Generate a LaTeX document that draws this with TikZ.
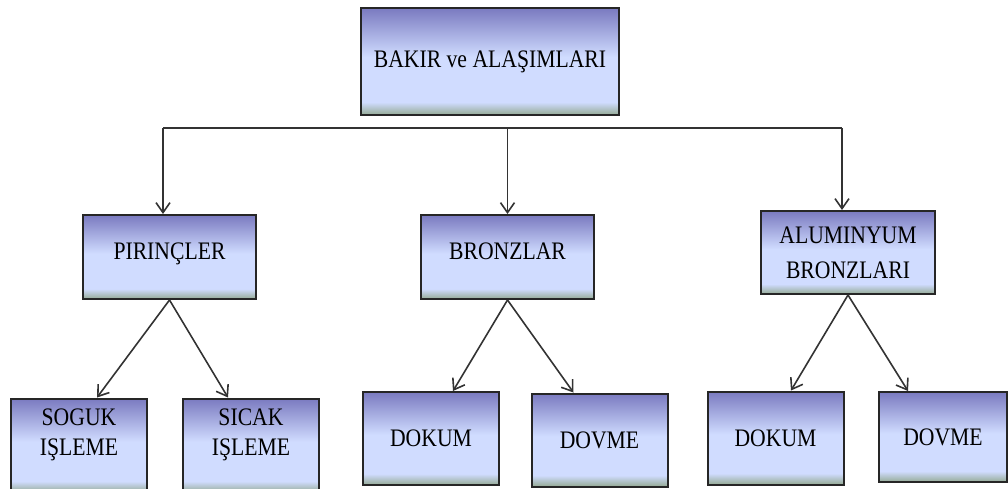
\documentclass[tikz,border=0pt]{standalone}
\usepackage{fontspec}
\setmainfont{Liberation Serif}[FakeStretch=0.86]
\usetikzlibrary{arrows.meta}

\definecolor{boxtop}{RGB}{122,122,192}
\definecolor{boxmid}{RGB}{208,220,255}
\definecolor{boxfoot}{RGB}{148,170,148}
\pgfdeclareverticalshading{boxshade}{100bp}{color(0bp)=(boxfoot); color(25bp)=(boxfoot); color(31bp)=(boxmid); color(52bp)=(boxmid); color(75bp)=(boxtop); color(100bp)=(boxtop)}

\begin{document}
\begin{tikzpicture}[
  x=0.5pt, y=-0.5pt,
  font=\fontsize{12.6}{15}\selectfont,
  box/.style={draw=black!85, line width=1pt, shade, shading=boxshade, align=center, inner sep=0pt},
  root/.style={box, minimum width=129pt, minimum height=53.5pt},
  group/.style={box, minimum width=86.5pt, minimum height=42pt},
  leaf/.style={box, minimum width=68pt, minimum height=46.5pt},
  wire/.style={draw=black!80, line width=0.8pt},
  arr/.style={wire, -{Straight Barb[length=5pt,width=7pt]}}
]
\useasboundingbox (0,0) rectangle (1008,488);

% top level
\node[root] (bakir) at (490,61.5) {BAKIR ve ALAŞIMLARI};

% alloy groups
\node[group, text depth=6pt] (pirinc) at (169.5,257) {PIRINÇLER};
\node[group, text depth=6pt] (bronz) at (507.5,257) {BRONZLAR};
\node[group, minimum width=87pt, minimum height=41.5pt, font=\fontsize{12.6}{17.5}\selectfont] (alubronz) at (848,252.5) {ALUMINYUM\\BRONZLARI};

% processes
\node[leaf, minimum height=47pt, text depth=13pt] (soguk) at (79,445.5) {SOGUK\\IŞLEME};
\node[leaf, minimum height=47pt, text depth=13pt] (sicak) at (251,445.5) {SICAK\\IŞLEME};
\node[leaf] (dokumA) at (431,438.5) {DOKUM};
\node[leaf] (dovmeA) at (599.5,440) {DOVME};
\node[leaf] (dokumB) at (775.5,438) {DOKUM};
\node[leaf, minimum width=64pt, minimum height=45pt] (dovmeB) at (943,437) {DOVME};

% bus below the root
\coordinate (busL) at (163,128);
\coordinate (busR) at (842,128);
\draw[wire] (busL) -- (busR);
\draw[arr] (busL) -- (busL |- pirinc.north);
\draw[arr] (bronz.north |- busL) -- (bronz.north);
\draw[arr] (busR) -- (busR |- alubronz.north);

% branches
\draw[arr] (pirinc.south) -- ([xshift=9pt]soguk.north);
\draw[arr] (pirinc.south) -- ([xshift=-11.5pt]sicak.north);
\draw[arr] (bronz.south) -- ([xshift=11pt]dokumA.north);
\draw[arr] (bronz.south) -- ([xshift=-13pt]dovmeA.north);
\draw[arr] (alubronz.south) -- ([xshift=7.75pt]dokumB.north);
\draw[arr] (alubronz.south) -- ([xshift=-17.5pt]dovmeB.north);
\end{tikzpicture}
\end{document}
